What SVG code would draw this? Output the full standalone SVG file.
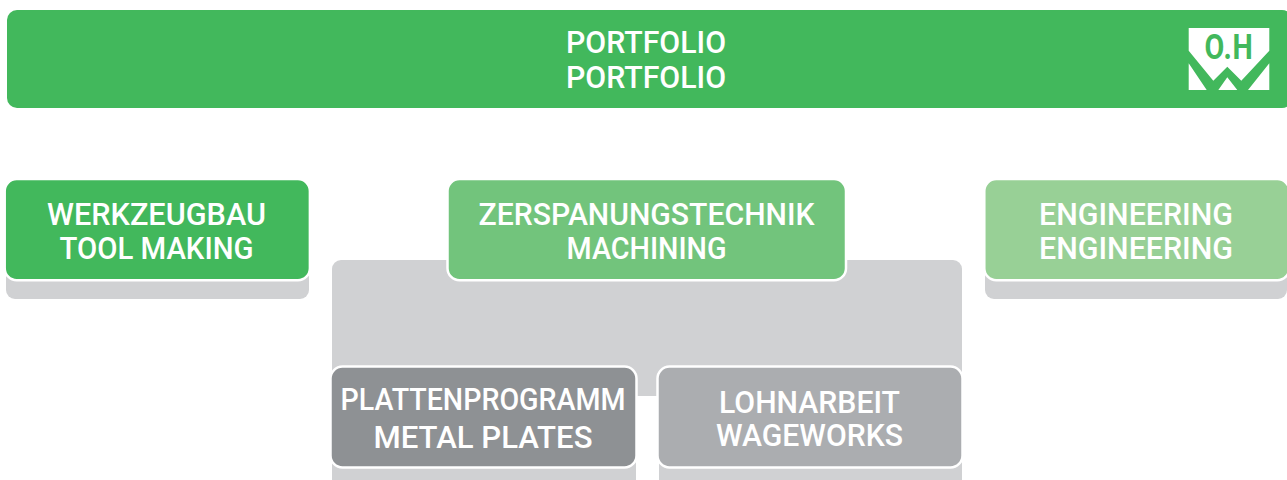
<svg xmlns="http://www.w3.org/2000/svg" width="1287" height="480" viewBox="0 0 1287 480">
<style>
.t{font-family:"Roboto","Liberation Sans",sans-serif;font-weight:500;font-size:30.500px;fill:#fff;text-anchor:middle}
.shadow{fill:#d0d1d3}
.box{stroke:#fff;stroke-width:2.500}
</style>
<rect width="1287" height="480" fill="#fff"/>
<g id="header">
<rect x="7" y="10" width="1285" height="98" rx="10" fill="#42b85c"/>
<text class="t" x="646" y="52.500" textLength="160" lengthAdjust="spacingAndGlyphs">PORTFOLIO</text>
<text class="t" x="646" y="87.500" textLength="160" lengthAdjust="spacingAndGlyphs">PORTFOLIO</text>
</g>
<g id="logo">
<path fill="#fff" d="M1188.700 28H1269.300V50.700L1241.300 80.700L1227.300 66.700L1213.300 80.700L1188.700 50.700Z"/>
<path fill="#fff" d="M1188.700 63.300L1206.700 90H1188.700ZM1269.300 63.300V90H1248ZM1227.300 77.300L1237.300 90H1218.300Z"/>
<text transform="translate(1229,58.500) scale(.82,1)" font-family="Roboto,'Liberation Sans',sans-serif" font-weight="700" font-size="35" letter-spacing="1" fill="#42b85c" text-anchor="middle">O.H</text>
</g>
<g id="werkzeugbau">
<rect class="shadow" x="6" y="240" width="303" height="59" rx="9"/>
<rect class="box" x="4.700" y="179" width="305.200" height="101.200" rx="12" fill="#42b85c"/>
<text class="t" x="156.500" y="224.500" textLength="219" lengthAdjust="spacingAndGlyphs">WERKZEUGBAU</text>
<text class="t" x="156.500" y="259" textLength="194" lengthAdjust="spacingAndGlyphs">TOOL MAKING</text>
</g>
<g id="zerspanungstechnik">
<rect class="shadow" x="332" y="260" width="630" height="136" rx="9"/>
<rect class="box" x="447.500" y="179" width="398.500" height="101.200" rx="12" fill="#72c47c"/>
<text class="t" x="646.500" y="224.500" textLength="336" lengthAdjust="spacingAndGlyphs">ZERSPANUNGSTECHNIK</text>
<text class="t" x="646.500" y="259" textLength="160" lengthAdjust="spacingAndGlyphs">MACHINING</text>
</g>
<g id="engineering">
<rect class="shadow" x="985" y="240" width="302" height="59" rx="9"/>
<rect class="box" x="984.300" y="179" width="305" height="101.200" rx="12" fill="#98d096"/>
<text class="t" x="1136" y="224.500" textLength="194" lengthAdjust="spacingAndGlyphs">ENGINEERING</text>
<text class="t" x="1136" y="259" textLength="194" lengthAdjust="spacingAndGlyphs">ENGINEERING</text>
</g>
<g id="plattenprogramm">
<rect class="shadow" x="332" y="420" width="304" height="70" rx="9"/>
<rect class="box" x="330.500" y="366.500" width="306" height="101" rx="12" fill="#8e9194"/>
<text class="t" x="483" y="409.500" textLength="285" lengthAdjust="spacingAndGlyphs">PLATTENPROGRAMM</text>
<text class="t" x="483" y="447.500" textLength="219" lengthAdjust="spacingAndGlyphs">METAL PLATES</text>
</g>
<g id="lohnarbeit">
<rect class="shadow" x="659" y="420" width="303" height="70" rx="9"/>
<rect class="box" x="657.500" y="366.500" width="305" height="101" rx="12" fill="#abadb0"/>
<text class="t" x="809.500" y="412.500" textLength="181" lengthAdjust="spacingAndGlyphs">LOHNARBEIT</text>
<text class="t" x="809.500" y="446" textLength="187" lengthAdjust="spacingAndGlyphs">WAGEWORKS</text>
</g>
<g id="connectors"/>
</svg>
